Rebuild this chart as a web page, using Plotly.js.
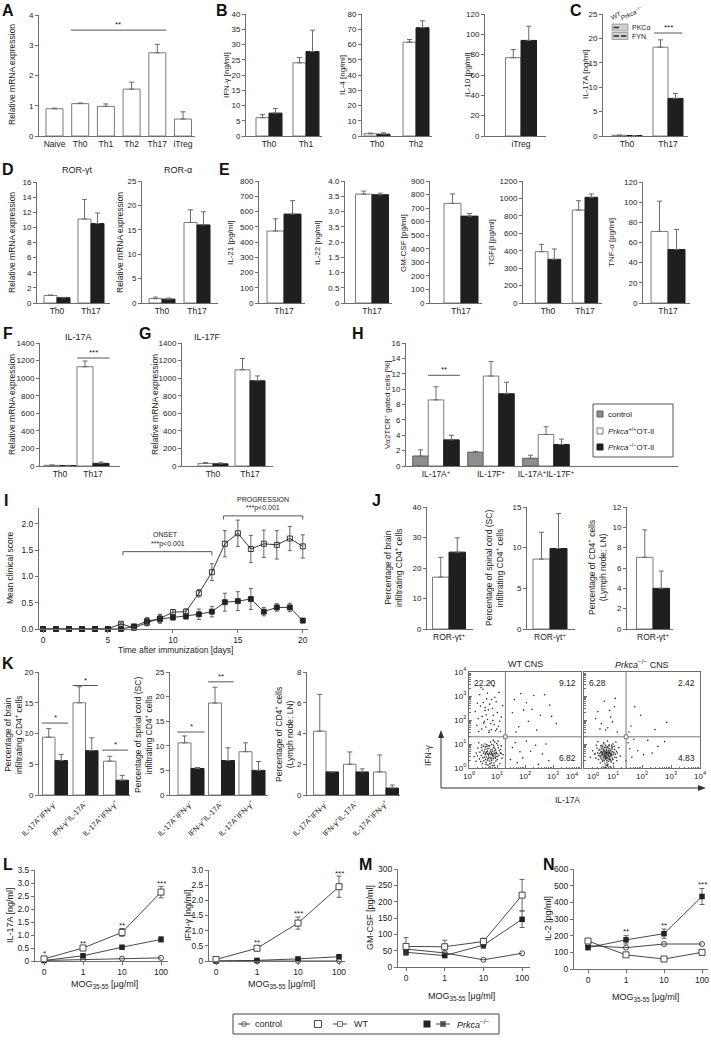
<!DOCTYPE html>
<html><head><meta charset="utf-8">
<script src="https://cdn.plot.ly/plotly-3.0.1.min.js"></script>
<style>body{margin:0;padding:0;background:#fff}#chart{width:711px;height:1046px}</style>
</head><body><div id="chart"></div>
<script>
// ================= DATA =================
// A
const catsA=['Naive','Th0','Th1','Th2','Th17','iTreg'];
const valsA=[0.9,1.07,0.98,1.55,2.75,0.56];
const errA=[0.02,0.02,0.08,0.23,0.28,0.24];
// B
const catsB1=['Th0','Th1']; const wtB1=[6,24]; const wtB1e=[1,1.7]; const koB1=[7.5,27.7]; const koB1e=[1.5,7];
const catsB2=['Th0','Th2']; const wtB2=[1.5,61.5]; const wtB2e=[0.4,1.8]; const koB2=[1.2,71]; const koB2e=[0.9,4.5];
const catsB3=['iTreg']; const wtB3=[77]; const wtB3e=[8]; const koB3=[94]; const koB3e=[14];
// C
const catsC=['Th0','Th17']; const wtC=[0.15,18.2]; const wtCe=[0,1.5]; const koC=[0.1,7.7]; const koCe=[0,1];
// D
const catsD=['Th0','Th17'];
const wtD1=[1.0,11.1]; const wtD1e=[0.05,2.6]; const koD1=[0.7,10.5]; const koD1e=[0.05,1.4];
const wtD2=[0.9,16.5]; const wtD2e=[0.3,2.6]; const koD2=[0.8,16.0]; const koD2e=[0.2,2.7];
// E
const catsE=['Th17'];
const wtE1=[472]; const wtE1e=[80]; const koE1=[583]; const koE1e=[88];
const wtE2=[3.57]; const wtE2e=[0.1]; const koE2=[3.55]; const koE2e=[0.05];
const ticksE2=['0','0.5','1.0','1.5','2.0','3.5','3.0','3.5','4.0'];
const wtE3=[735]; const wtE3e=[70]; const koE3=[641]; const koE3e=[20];
const catsE4=['Th0','Th17'];
const wtE4=[589,1067]; const wtE4e=[84,107]; const koE4=[501,1213]; const koE4e=[119,38];
const ticksE4=['0','200','300','400','600','800','1000','1200'];
const wtE5=[71]; const wtE5e=[30]; const koE5=[53]; const koE5e=[20];
// F, G
const catsF=['Th0','Th17'];
const wtF=[8,1130]; const wtFe=[3,65]; const koF=[5,30]; const koFe=[2,15];
const wtG=[30,1095]; const wtGe=[8,130]; const koG=[25,970]; const koGe=[10,55];
// H
const catsH=['IL-17A<sup>+</sup>','IL-17F<sup>+</sup>','IL-17A<sup>+</sup>IL-17F<sup>+</sup>'];
const ctrlH=[1.3,1.8,1.0]; const ctrlHe=[0.8,0.1,0.4];
const wtH=[8.6,11.7,4.1]; const wtHe=[1.7,1.9,1.0];
const koH=[3.4,9.4,2.8]; const koHe=[0.6,1.5,0.7];
// I
const daysI=[0,1,2,3,4,5,6,7,8,9,10,11,12,13,14,15,16,17,18,19,20];
const wtI=[0,0,0,0,0,0,0.1,0.02,0.12,0.2,0.32,0.33,0.68,1.08,1.62,1.82,1.52,1.62,1.6,1.72,1.57];
const wtIe=[0,0,0,0,0,0,0.02,0.02,0.06,0.08,0.05,0.05,0.07,0.16,0.25,0.25,0.26,0.26,0.27,0.23,0.22];
const koI=[0,0,0,0,0,0,0,0.05,0.15,0.19,0.22,0.24,0.28,0.33,0.51,0.53,0.57,0.33,0.41,0.41,0.16];
const koIe=[0,0,0,0,0,0,0,0.02,0.07,0.08,0.05,0.05,0.1,0.1,0.17,0.18,0.2,0.08,0.07,0.08,0.04];
// J
const catsJ=['ROR-γt<sup>+</sup>'];
const wtJ1=[17]; const wtJ1e=[6.5]; const koJ1=[25.2]; const koJ1e=[4.7];
const wtJ2=[8.6]; const wtJ2e=[3.3]; const koJ2=[9.9]; const koJ2e=[4.3];
const wtJ3=[7.05]; const wtJ3e=[2.7]; const koJ3=[4.0]; const koJ3e=[1.7];
// K
const catsK=['IL-17A<sup>+</sup>IFN-γ<sup>−</sup>','IFN-γ<sup>+</sup>IL-17A<sup>−</sup>','IL-17A<sup>+</sup>IFN-γ<sup>+</sup>'];
const wtK1=[9.4,15.0,5.5]; const wtK1e=[1.4,2.6,0.8]; const koK1=[5.6,7.2,2.4]; const koK1e=[1.0,2.1,0.8];
const wtK2=[10.6,18.7,8.8]; const wtK2e=[1.4,3.2,1.8]; const koK2=[5.4,7.0,5.0]; const koK2e=[0.2,2.6,1.8];
const wtK3=[4.15,2.0,1.5]; const wtK3e=[2.4,0.8,1.1]; const koK3=[1.5,1.5,0.45]; const koK3e=[0,0.2,0.2];
// Flow cytometry (log10 units: [IL-17A, IFN-γ])
const dotsWT=[[0.52,0.61],[0.78,0.44],[0.91,0.72],[0.66,0.33],[0.85,0.58],[1.02,0.49],[0.71,0.81],[0.44,0.52],[0.96,0.29],[0.63,0.67],[0.88,0.95],[1.12,0.63],[0.37,0.38],[0.75,0.17],[0.58,0.88],[1.05,0.84],[0.81,0.31],[0.69,0.55],[0.93,0.46],[0.47,0.74],[1.18,0.41],[0.26,0.62],[0.84,0.69],[0.61,0.24],[0.99,1.02],[0.73,0.62],[0.55,0.45],[0.89,0.21],[1.08,0.72],[0.32,0.83],[0.77,1.08],[0.64,0.97],[0.95,0.58],[0.42,0.27],[0.86,0.39],[1.15,0.92],[0.68,0.12],[0.51,0.91],[0.79,0.75],[1.22,0.55],[0.18,0.47],[0.92,0.82],[0.59,0.36],[0.83,0.52],[0.72,0.43],[1.01,0.35],[0.35,1.05],[0.97,0.65],[0.66,0.71],[0.48,0.18],[0.87,1.15],[1.1,0.18],[0.6,0.58],[0.8,0.63],[0.25,0.28],[0.74,0.93],[1.04,1.12],[0.57,0.78],[0.9,0.1],[0.45,0.96],
[0.7,0.5],[0.82,0.58],[0.62,0.46],[0.9,0.62],[0.76,0.7],[0.67,0.6],[0.86,0.47],[0.95,0.75],[0.58,0.55],[0.79,0.38],[1.0,0.6],[0.54,0.68],[0.73,0.29],[0.88,0.86],[0.65,0.8],[1.07,0.53],[0.49,0.43],[0.83,0.78],[0.71,0.92],[0.94,0.41],[0.61,0.15],[0.39,0.66],[1.13,0.77],[0.8,0.22],[0.57,1.0],[0.92,1.08],[0.68,0.39],[0.3,0.5],[1.03,0.95],[0.76,0.56],[0.85,0.1],[0.53,0.3],[0.97,0.47],[0.64,0.9],[0.89,0.54],[1.16,0.6],[0.44,0.85],[0.74,0.05],[0.81,0.98],[0.6,0.62],
[0.45,1.62],[0.78,1.85],[0.62,2.21],[0.95,1.55],[0.33,2.05],[0.84,2.48],[1.05,1.74],[0.51,2.73],[0.71,1.48],[0.92,2.95],[0.28,1.78],[0.66,3.12],[1.15,2.12],[0.55,1.95],[0.88,3.41],[0.41,2.58],[0.74,2.66],[1.01,2.31],[0.6,1.71],[0.85,1.98],[0.38,3.05],[0.69,2.42],[1.12,1.52],[0.5,3.28],[0.97,2.76],[0.22,2.35],[0.8,1.6],[0.63,2.88],[1.07,3.15],[0.47,2.15],[0.76,3.55],[0.9,1.8],[0.35,1.52],[0.58,2.52],[1.2,2.6],
[0.53,1.88],[0.87,2.2],[0.3,2.7],[0.99,1.62],[0.66,2.02],[0.43,3.35],[0.81,2.85],[1.1,1.95],[0.57,2.4],[0.72,1.55],
[1.62,2.85],[1.95,2.41],[2.31,3.02],[1.78,1.72],[2.55,2.2],[2.12,1.95],[1.55,2.3],[2.88,2.62],[2.42,1.58],[1.85,3.1],[2.05,2.72],[3.12,1.85],[2.7,3.05],[1.68,1.5],[2.25,2.45],[2.95,2.15],
[1.55,0.85],[1.92,0.42],[2.38,0.95],[1.72,0.22],[2.62,0.58],[2.05,1.12],[1.48,0.35],[2.85,0.3],[2.2,0.7],[1.65,1.05],[2.48,0.15],[1.82,0.68],[2.75,1.0]];
const dotsKO=[[0.62,0.58],[0.81,0.66],[0.74,0.42],[0.93,0.71],[0.55,0.49],[0.88,0.35],[0.69,0.79],[1.02,0.55],[0.47,0.63],[0.78,0.51],[0.96,0.88],[0.64,0.27],[0.85,0.62],[1.11,0.44],[0.58,0.92],[0.73,0.69],[0.9,0.48],[0.41,0.41],[0.83,0.83],[1.06,0.76],[0.67,0.55],[0.79,0.31],[0.95,0.61],[0.52,0.74],[0.87,0.97],[0.71,0.6],[1.15,0.62],[0.6,0.38],[0.82,0.45],[0.98,0.4],[0.36,0.57],[0.76,0.86],[0.66,0.7],[0.92,0.53],[1.2,0.85],[0.56,0.21],[0.84,0.74],[0.7,0.47],[1.0,1.0],[0.45,0.83],[0.8,0.57],[0.63,0.64],[0.94,0.25],[1.08,0.58],[0.75,0.95],[0.5,0.35],[0.86,0.52],[0.68,1.05],[0.97,0.78],[0.3,0.72],[0.77,0.4],[1.13,0.3],[0.61,0.82],[0.89,0.65],[0.72,0.18],[1.04,0.9],[0.54,0.6],[0.81,1.12],[0.91,0.36],[0.65,0.5],[0.78,0.73],[1.25,0.5],[0.42,0.95],[0.85,0.28],[0.69,0.63],[0.99,0.68],[0.58,0.45],[0.74,0.55],[0.88,0.8],[1.1,1.08],[0.22,0.45],[0.8,0.12],[0.64,0.88],[0.95,0.95],[0.7,0.3],[0.84,0.58],[0.48,1.1],[1.02,0.2],[0.6,0.7],[0.77,0.65],[0.9,0.05],[0.75,0.02],[0.82,0.08],[0.66,0.04],
[0.72,0.52],[0.8,0.44],[0.86,0.67],[0.63,0.59],[0.77,0.78],[0.92,0.58],[0.68,0.42],[0.84,0.5],[0.75,0.64],[0.59,0.53],[0.96,0.5],[0.7,0.72],[0.88,0.43],[0.81,0.88],[0.65,0.33],[1.03,0.64],[0.55,0.78],[0.79,0.24],[0.9,0.74],[0.73,0.36],[1.06,0.45],[0.62,0.95],[0.83,0.38],[0.97,0.84],[0.5,0.52],[0.87,0.6],[0.71,0.87],[0.78,0.6],[0.93,0.3],[0.66,0.77],[1.12,0.7],[0.58,0.66],[0.82,0.15],[0.74,0.48],[0.95,0.56],[0.69,1.0],[0.86,0.92],[0.38,0.6],[1.0,0.35],[0.76,0.1],
[0.75,1.58],[0.92,2.12],[0.6,1.85],[1.05,2.55],[0.82,1.68],[0.48,2.35],[0.98,1.92],[0.7,2.78],[1.15,1.5],[0.55,1.62],[0.88,2.4],[1.08,2.9],[0.4,2.05],
[1.62,1.75],[1.95,2.2],[2.45,1.6],[1.75,2.55],[2.85,1.9],[1.55,1.5],
[1.52,1.05],[1.85,0.72],[2.2,1.15],[1.65,0.45],[2.55,0.9],[1.45,0.3],[2.05,0.55],[2.78,1.1],[1.72,1.2],[2.35,0.62],[1.58,0.8]];
const gateWT=[1.3,1.3]; const gateKO=[1.45,1.3];
const quadWT=['22.20','9.12','6.82']; const quadKO=['6.28','2.42','4.83'];
// L, M, N
const doses=['0','1','10','100'];
const ctrlL1=[0.02,0.06,0.09,0.12]; const wtL1=[0.08,0.5,1.1,2.65]; const wtL1e=[0.03,0.04,0.15,0.22]; const koL1=[0.02,0.2,0.53,0.83]; const koL1e=[0.01,0.05,0.03,0.1];
const starsL1=['*','**','**','***']; const starsL1y=[0.3,0.68,1.37,3.0];
const ctrlL2=[0,0,0,0]; const wtL2=[0.05,0.42,1.25,2.45]; const wtL2e=[0.02,0.08,0.2,0.35]; const koL2=[0,0.02,0.07,0.14]; const koL2e=[0,0.01,0.03,0.03];
const starsL2=['','**','***','***']; const starsL2y=[0,0.62,1.58,2.9];
const ctrlM=[55,43,22,42]; const wtM=[63,62,78,220]; const wtMe=[27,20,10,48]; const koM=[45,35,67,146]; const koMe=[8,5,10,25];
const ctrlN=[140,128,150,150]; const wtN=[168,85,60,100]; const wtNe=[8,6,5,6]; const koN=[128,175,212,435]; const koNe=[8,25,28,48];
const starsN=['','**','**','***']; const starsNy=[0,225,262,505];

// ================= HELPERS =================
const W=711,H=1046;
const FONT='Liberation Sans, Arial, sans-serif';
const NARROW='Liberation Sans Narrow, Arial Narrow, Liberation Sans, sans-serif';
const AX='#6f6f6f';
const data=[],ann=[],shapes=[];
const layout={width:W,height:H,margin:{l:0,r:0,t:0,b:0,pad:0},showlegend:false,barmode:'overlay',
  paper_bgcolor:'#ffffff',plot_bgcolor:'rgba(0,0,0,0)',font:{family:FONT,size:8,color:'#222'},
  annotations:ann,shapes:shapes};
let nAx=0;
const px=x=>x/W, py=y=>1-y/H;
function axes(x0,x1,yT,yB,xo,yo){
  nAx++; const s=nAx===1?'':String(nAx);
  const base={showline:true,linecolor:AX,linewidth:1,showgrid:false,zeroline:false,tickcolor:AX,ticklen:3,tickwidth:1,
    tickfont:{family:FONT,size:8,color:'#222'},fixedrange:true,automargin:false};
  layout['xaxis'+s]=Object.assign({},base,{domain:[px(x0),px(x1)],anchor:'y'+s},xo||{});
  layout['yaxis'+s]=Object.assign({},base,{domain:[py(yB),py(yT)],anchor:'x'+s,ticks:'outside'},yo||{});
  return {x:'x'+s,y:'y'+s};
}
function txt(t,x,y,o){ann.push(Object.assign({xref:'paper',yref:'paper',x:px(x),y:py(y),text:t,showarrow:false,
  font:{family:FONT,size:8.5,color:'#222'},xanchor:'center',yanchor:'middle'},o||{}));}
function letter(t,x,y){txt(t,x,y,{font:{family:FONT,size:16,color:'#111',weight:'bold'}});}
function ytitle(t,x,y,o){txt(t,x,y,Object.assign({textangle:-90},o||{}));}
const WHITE={fill:'#ffffff',line:'#7a7a7a'}, BLACK={fill:'#1f1f1f',line:'#1f1f1f'}, GRAY={fill:'#8e8e8e',line:'#5a5a5a'};
function barPanel(o){
  const r=[(o.x0-o.c0)/o.step,(o.x1-o.c0)/o.step], w=o.bw/o.step;
  const yo={range:[0,o.ymax],dtick:o.dtick,tickfont:{family:FONT,size:o.tfs||8,color:'#222'}};
  if(o.tickvals){yo.tickmode='array';yo.tickvals=o.tickvals;yo.ticktext=o.ticktext;}
  const a=axes(o.x0,o.x1,o.yT,o.yB,Object.assign({type:'category',range:r,ticks:'',tickfont:{family:FONT,size:8.5,color:'#222'}},o.xo||{}),yo);
  const n=o.series.length;
  o.series.forEach((s,i)=>{
    data.push({type:'bar',x:o.cats,y:s.v,xaxis:a.x,yaxis:a.y,width:w,offset:(i-n/2)*w,
      marker:{color:s.st.fill,line:{color:s.st.line,width:1}},
      error_y:{type:'data',symmetric:false,array:s.e,arrayminus:s.e.map(()=>0),color:'#6a6a6a',thickness:1,width:2.5}});
  });
  return a;
}
function sig(a,x0,x1,y,t,dy){
  shapes.push({type:'line',xref:a.x,yref:a.y,x0:x0,x1:x1,y0:y,y1:y,line:{color:'#555',width:1}});
  ann.push({xref:a.x,yref:a.y,x:(x0+x1)/2,y:y,text:t,showarrow:false,yanchor:'bottom',yshift:dy||0,font:{family:FONT,size:8,color:'#222'}});
}

// ================= ROW 1 =================
letter('A',8,10); letter('B',222,10); letter('C',576,10);
let a=barPanel({x0:39,x1:195,yT:15,yB:136,ymax:4,dtick:1,cats:catsA,c0:54.5,step:25.7,bw:17,series:[{v:valsA,e:errA,st:WHITE}]});
sig(a,0.64,4.34,3.5,'**',-1);
ytitle('Relative mRNA expression',12,75);
barPanel({x0:246,x1:322,yT:14,yB:136,ymax:40,dtick:5,cats:catsB1,c0:269,step:37,bw:13,series:[{v:wtB1,e:wtB1e,st:WHITE},{v:koB1,e:koB1e,st:BLACK}]});
ytitle('IFN-γ [ng/ml]',226,75,{font:{family:FONT,size:8,color:'#222'}});
barPanel({x0:362,x1:432,yT:14,yB:136,ymax:80,dtick:10,cats:catsB2,c0:377,step:39,bw:13,series:[{v:wtB2,e:wtB2e,st:WHITE},{v:koB2,e:koB2e,st:BLACK}]});
ytitle('IL-4 [ng/ml]',342,75,{font:{family:FONT,size:8,color:'#222'}});
barPanel({x0:485,x1:546,yT:14,yB:136,ymax:120,dtick:20,cats:catsB3,c0:521,step:40,bw:15.5,series:[{v:wtB3,e:wtB3e,st:WHITE},{v:koB3,e:koB3e,st:BLACK}]});
ytitle('IL-10 [pg/ml]',467,75,{font:{family:FONT,size:8,color:'#222'}});
a=barPanel({x0:603,x1:688,yT:14,yB:136,ymax:25,dtick:5,cats:catsC,c0:627,step:41,bw:15,series:[{v:wtC,e:wtCe,st:WHITE},{v:koC,e:koCe,st:BLACK}]});
sig(a,0.66,1.35,21.1,'***',-1);
ytitle('IL-17A [ng/ml]',585,75,{font:{family:FONT,size:8,color:'#222'}});
// western blot inset
shapes.push({type:'rect',xref:'paper',yref:'paper',x0:px(612),x1:px(628),y0:py(31),y1:py(24),fillcolor:'#cfcfcf',line:{color:'#777',width:0.6}});
shapes.push({type:'rect',xref:'paper',yref:'paper',x0:px(612),x1:px(628),y0:py(39.5),y1:py(32.5),fillcolor:'#cfcfcf',line:{color:'#777',width:0.6}});
shapes.push({type:'rect',xref:'paper',yref:'paper',x0:px(613.5),x1:px(619),y0:py(28.3),y1:py(26.7),fillcolor:'#333',line:{width:0}});
shapes.push({type:'rect',xref:'paper',yref:'paper',x0:px(613.5),x1:px(619),y0:py(36.8),y1:py(35.2),fillcolor:'#333',line:{width:0}});
shapes.push({type:'rect',xref:'paper',yref:'paper',x0:px(621),x1:px(626.5),y0:py(36.8),y1:py(35.2),fillcolor:'#333',line:{width:0}});
txt('PKCα',630,27.5,{xanchor:'left',font:{family:FONT,size:7,color:'#222'}});
txt('FYN',630,36,{xanchor:'left',font:{family:FONT,size:7,color:'#222'}});
txt('WT',616,16,{textangle:-25,font:{family:FONT,size:6.5,color:'#222'}});
txt('<i>Prkca</i><sup>−/−</sup>',632,13.5,{textangle:-25,font:{family:FONT,size:6.5,color:'#222'}});

// ================= ROW 2 =================
letter('D',8,169); letter('E',224,169);
txt('ROR-γt',77,170,{font:{family:FONT,size:9,color:'#222'}});
txt('ROR-α',178,170,{font:{family:FONT,size:9,color:'#222'}});
barPanel({x0:37,x1:110,yT:182,yB:303,ymax:16,dtick:2,cats:catsD,c0:57,step:34,bw:13,series:[{v:wtD1,e:wtD1e,st:WHITE},{v:koD1,e:koD1e,st:BLACK}]});
ytitle('Relative mRNA expression',12,243);
barPanel({x0:142,x1:218,yT:181,yB:303,ymax:25,dtick:5,cats:catsD,c0:162,step:35,bw:13,series:[{v:wtD2,e:wtD2e,st:WHITE},{v:koD2,e:koD2e,st:BLACK}]});
ytitle('Relative mRNA expression',120,243);
barPanel({x0:259,x1:305,yT:181,yB:303,ymax:800,dtick:100,cats:catsE,c0:284,step:40,bw:17,series:[{v:wtE1,e:wtE1e,st:WHITE},{v:koE1,e:koE1e,st:BLACK}]});
ytitle('IL-21 [pg/ml]',231,243,{font:{family:FONT,size:8,color:'#222'}});
barPanel({x0:345,x1:392,yT:181,yB:303,ymax:4,cats:catsE,c0:372,step:40,bw:16.5,tickvals:[0,0.5,1,1.5,2,2.5,3,3.5,4],ticktext:ticksE2,series:[{v:wtE2,e:wtE2e,st:WHITE},{v:koE2,e:koE2e,st:BLACK}]});
ytitle('IL-22 [ng/ml]',318,243,{font:{family:FONT,size:8,color:'#222'}});
barPanel({x0:430,x1:482,yT:181,yB:303,ymax:900,dtick:100,cats:catsE,c0:461,step:40,bw:17,series:[{v:wtE3,e:wtE3e,st:WHITE},{v:koE3,e:koE3e,st:BLACK}]});
ytitle('GM-CSF [pg/ml]',404,243,{font:{family:FONT,size:8,color:'#222'}});
barPanel({x0:523,x1:602,yT:181,yB:303,ymax:1400,cats:catsE4,c0:548,step:37,bw:12.7,tickvals:[0,200,400,600,800,1000,1200,1400],ticktext:ticksE4,series:[{v:wtE4,e:wtE4e,st:WHITE},{v:koE4,e:koE4e,st:BLACK}]});
ytitle('TGFβ [pg/ml]',492,243,{font:{family:FONT,size:8,color:'#222'}});
barPanel({x0:643,x1:690,yT:182,yB:303,ymax:120,dtick:20,cats:catsE,c0:668,step:40,bw:17,series:[{v:wtE5,e:wtE5e,st:WHITE},{v:koE5,e:koE5e,st:BLACK}]});
ytitle('TNF-α [pg/ml]',612,243,{font:{family:FONT,size:8,color:'#222'}});

// ================= ROW 3 =================
letter('F',8,333); letter('G',145,333); letter('H',358,333);
txt('IL-17A',78,337,{font:{family:FONT,size:9,color:'#222'}});
txt('IL-17F',207,337,{font:{family:FONT,size:9,color:'#222'}});
a=barPanel({x0:40,x1:120,yT:343,yB:466,ymax:1400,dtick:200,cats:catsF,c0:60,step:33,bw:16,series:[{v:wtF,e:wtFe,st:WHITE},{v:koF,e:koFe,st:BLACK}]});
sig(a,0.52,1.5,1229,'***',-1);
ytitle('Relative mRNA expression',12,405);
barPanel({x0:182,x1:273,yT:343,yB:466,ymax:1400,dtick:200,cats:catsF,c0:213,step:37,bw:15,series:[{v:wtG,e:wtGe,st:WHITE},{v:koG,e:koGe,st:BLACK}]});
ytitle('Relative mRNA expression',155,405);
a=barPanel({x0:406,x1:678,yT:343,yB:466,ymax:16,dtick:2,cats:catsH,c0:436,step:55,bw:15.5,series:[{v:ctrlH,e:ctrlHe,st:GRAY},{v:wtH,e:wtHe,st:WHITE},{v:koH,e:koHe,st:BLACK}]});
sig(a,-0.145,0.436,11.8,'**',-1);
ytitle('Vα2TCR<sup>+</sup> gated cells [%]',387,405,{font:{family:FONT,size:8,color:'#222'}});
// H legend
shapes.push({type:'rect',layer:'below',xref:'paper',yref:'paper',x0:px(593),x1:px(673),y0:py(457),y1:py(404),line:{color:'#555',width:1},fillcolor:'rgba(0,0,0,0)'});
[[414,GRAY,'control'],[431,WHITE,'<i>Prkca</i><sup>+/+</sup>OT-II'],[447,BLACK,'<i>Prkca</i><sup>−/−</sup>OT-II']].forEach(r=>{
  shapes.push({type:'rect',xref:'paper',yref:'paper',x0:px(597),x1:px(603),y0:py(r[0]+3),y1:py(r[0]-3),fillcolor:r[1].fill,line:{color:r[1].line,width:1}});
  txt(r[2],606,r[0],{xanchor:'left',font:{family:FONT,size:8,color:'#222'}});
});

// ================= ROW 4 =================
letter('I',6,501); letter('J',376,501);
a=axes(39,308,508,629,{range:[-0.31,20.4],dtick:5,ticks:'outside',tickfont:{family:FONT,size:8.5,color:'#222'}},{range:[0,2.3],dtick:0.5,tick0:0,tickformat:'.1f',tickfont:{family:FONT,size:8.5,color:'#222'}});
data.push({type:'scatter',mode:'lines+markers',x:daysI,y:koI,xaxis:a.x,yaxis:a.y,cliponaxis:false,
  line:{color:'#222',width:0.9},marker:{symbol:'square',size:5,color:'#222',line:{color:'#222',width:0.8}},
  error_y:{type:'data',array:koIe,color:'#555',thickness:0.9,width:2}});
data.push({type:'scatter',mode:'lines+markers',x:daysI,y:wtI,xaxis:a.x,yaxis:a.y,cliponaxis:false,
  line:{color:'#222',width:0.9},marker:{symbol:'square-open',size:5,color:'#222',line:{color:'#222',width:0.9}},
  error_y:{type:'data',array:wtIe,color:'#555',thickness:0.9,width:2}});
// ONSET / PROGRESSION brackets
[[6.15,13,1.47],[13.9,20,2.15]].forEach(b=>{
  shapes.push({type:'path',xref:a.x,yref:a.y,path:`M ${b[0]},${b[2]-0.07} L ${b[0]},${b[2]} L ${b[1]},${b[2]} L ${b[1]},${b[2]-0.07}`,line:{color:'#555',width:1}});
});
txt('ONSET',165,534,{font:{family:FONT,size:7,color:'#222'}});
txt('***p<0.001',168,544,{font:{family:FONT,size:7,color:'#222'}});
txt('PROGRESSION',263,499,{font:{family:FONT,size:7,color:'#222'}});
txt('***p<0.001',263,508,{font:{family:FONT,size:7,color:'#222'}});
ytitle('Mean clinical score',10,568);
txt('Time after immunization [days]',175,650);
barPanel({x0:427,x1:473,yT:507,yB:629,ymax:40,dtick:10,cats:catsJ,c0:449,step:40,bw:16.5,series:[{v:wtJ1,e:wtJ1e,st:WHITE},{v:koJ1,e:koJ1e,st:BLACK}]});
ytitle('Percentage of brain<br>infiltrating CD4<sup>+</sup> cells',393,568);
barPanel({x0:527,x1:575,yT:507,yB:629,ymax:15,dtick:5,cats:catsJ,c0:550,step:40,bw:17,series:[{v:wtJ2,e:wtJ2e,st:WHITE},{v:koJ2,e:koJ2e,st:BLACK}]});
ytitle('Percentage of spinal cord (SC)<br>infiltrating CD4<sup>+</sup> cells',494,568);
barPanel({x0:627,x1:673,yT:507,yB:629,ymax:12,dtick:2,cats:catsJ,c0:653,step:40,bw:16.5,series:[{v:wtJ3,e:wtJ3e,st:WHITE},{v:koJ3,e:koJ3e,st:BLACK}]});
ytitle('Percentage of CD4<sup>+</sup> cells<br>(Lymph node; LN)',597,568);

// ================= ROW 5 =================
letter('K',8,663);
const kx={tickangle:-45,tickfont:{family:FONT,size:7.5,color:'#222'}};
a=barPanel({x0:39,x1:130,yT:672,yB:795,ymax:20,dtick:5,cats:catsK,c0:55,step:30.5,bw:12.5,xo:kx,series:[{v:wtK1,e:wtK1e,st:WHITE},{v:koK1,e:koK1e,st:BLACK}]});
sig(a,-0.43,0.43,11.7,'*',-1); sig(a,0.58,1.4,17.8,'*',-1); sig(a,1.55,2.4,7.3,'*',-1);
ytitle('Percentage of brain<br>infiltrating CD4<sup>+</sup> cells',13,735);
a=barPanel({x0:170,x1:268,yT:672,yB:795,ymax:25,dtick:5,cats:catsK,c0:191,step:30.5,bw:13,xo:kx,series:[{v:wtK2,e:wtK2e,st:WHITE},{v:koK2,e:koK2e,st:BLACK}]});
sig(a,-0.45,0.45,12.8,'*',-1); sig(a,0.56,1.4,23,'**',-1);
ytitle('Percentage of spinal cord (SC)<br>infiltrating CD4<sup>+</sup> cells',143,735);
barPanel({x0:307,x1:400,yT:672,yB:795,ymax:8,dtick:2,cats:catsK,c0:326,step:30,bw:12.5,xo:kx,series:[{v:wtK3,e:wtK3e,st:WHITE},{v:koK3,e:koK3e,st:BLACK}]});
ytitle('Percentage of CD4<sup>+</sup> cells<br>(Lymph node; LN)',284,735);

// flow cytometry
const logT=['10<sup>0</sup>','10<sup>1</sup>','10<sup>2</sup>','10<sup>3</sup>','10<sup>4</sup>'];
const minorV=[]; for(let d=0;d<4;d++){for(let k=2;k<10;k++)minorV.push(d+Math.log10(k));}
function flow(x0,x1,dots,gate,quad,title,showY,xv,xt){
  const fa=axes(x0,x1,672,768,
    {range:[0,4],tickmode:'array',tickvals:xv,ticktext:xt,ticks:'inside',ticklen:3,mirror:true,
     minor:{tickmode:'array',tickvals:minorV,ticks:'inside',ticklen:1.5,tickcolor:AX},tickfont:{family:FONT,size:8,color:'#222'}},
    {range:[0,4],tickmode:'array',tickvals:[0,1,2,3,4],ticktext:logT,showticklabels:showY,ticks:'inside',ticklen:3,mirror:true,
     minor:{tickmode:'array',tickvals:minorV,ticks:'inside',ticklen:1.5,tickcolor:AX},tickfont:{family:FONT,size:8,color:'#222'}});
  data.push({type:'scatter',mode:'markers',x:dots.map(d=>d[0]),y:dots.map(d=>d[1]),xaxis:fa.x,yaxis:fa.y,
    marker:{size:1.6,color:'#2a2a2a'},cliponaxis:true});
  shapes.push({type:'line',xref:fa.x,yref:fa.y,x0:gate[0],x1:gate[0],y0:0,y1:4,line:{color:'#777',width:1}});
  shapes.push({type:'line',xref:fa.x,yref:fa.y,x0:0,x1:4,y0:gate[1],y1:gate[1],line:{color:'#777',width:1}});
  shapes.push({type:'rect',xref:fa.x,yref:fa.y,x0:gate[0]-0.06,x1:gate[0]+0.06,y0:gate[1]-0.08,y1:gate[1]+0.08,line:{color:'#555',width:0.8},fillcolor:'#fff'});
  ann.push({xref:fa.x,yref:fa.y,x:0.12,y:3.82,text:quad[0],showarrow:false,xanchor:'left',yanchor:'top',font:{family:FONT,size:8.5,color:'#222'}});
  ann.push({xref:fa.x,yref:fa.y,x:3.9,y:3.82,text:quad[1],showarrow:false,xanchor:'right',yanchor:'top',font:{family:FONT,size:8.5,color:'#222'}});
  ann.push({xref:fa.x,yref:fa.y,x:3.9,y:0.12,text:quad[2],showarrow:false,xanchor:'right',yanchor:'bottom',font:{family:FONT,size:8.5,color:'#222'}});
  txt(title,(x0+x1)/2,664,{font:{family:FONT,size:9,color:'#222'}});
}
flow(469,581,dotsWT,gateWT,quadWT,'WT CNS',true,[0,1,2,3],logT.slice(0,4));
flow(584,700,dotsKO,gateKO,quadKO,'<i>Prkca</i><sup>−/−</sup> CNS',false,[1,2,3,4],logT.slice(1));
txt(logT[4],580,776,{xanchor:'right',font:{family:FONT,size:8,color:'#222'}});
txt(logT[0],585,776,{xanchor:'left',font:{family:FONT,size:8,color:'#222'}});
// axis arrows
shapes.push({type:'line',xref:'paper',yref:'paper',x0:px(441),x1:px(441),y0:py(788),y1:py(736),line:{color:'#333',width:1}});
shapes.push({type:'line',xref:'paper',yref:'paper',x0:px(441),x1:px(700),y0:py(788),y1:py(788),line:{color:'#333',width:1}});
shapes.push({type:'path',xref:'paper',yref:'paper',path:`M ${px(441)},${py(730)} L ${px(438)},${py(738)} L ${px(444)},${py(738)} Z`,fillcolor:'#333',line:{width:0}});
shapes.push({type:'path',xref:'paper',yref:'paper',path:`M ${px(706)},${py(788)} L ${px(698)},${py(785)} L ${px(698)},${py(791)} Z`,fillcolor:'#333',line:{width:0}});
ytitle('IFN-γ',428,755);
txt('IL-17A',567,800);

// ================= ROW 6 =================
letter('L',8,864); letter('M',365,864); letter('N',549,864);
function linePanel(o){
  const r=[(o.x0-o.c0)/o.step,(o.x1-o.c0)/o.step];
  const yo={range:[0,o.ymax],tickmode:'array',tickvals:o.tv,ticktext:o.tt,tickfont:{family:NARROW,size:8.5,color:'#222'}};
  const a=axes(o.x0,o.x1,o.yT,o.yB,{type:'category',range:r,ticks:'outside',ticklen:3,tickfont:{family:NARROW,size:8.5,color:'#222'}},yo);
  data.push({type:'scatter',mode:'lines+markers',x:doses,y:o.ctrl,xaxis:a.x,yaxis:a.y,cliponaxis:false,
    line:{color:'#333',width:0.9},marker:{symbol:'circle-open',size:5,color:'#333',line:{width:0.9}}});
  data.push({type:'scatter',mode:'lines+markers',x:doses,y:o.ko,xaxis:a.x,yaxis:a.y,cliponaxis:false,
    line:{color:'#333',width:0.9},marker:{symbol:'square',size:5.5,color:'#222'},
    error_y:{type:'data',array:o.koe,color:'#555',thickness:0.9,width:2.5}});
  data.push({type:'scatter',mode:'lines+markers',x:doses,y:o.wt,xaxis:a.x,yaxis:a.y,cliponaxis:false,
    line:{color:'#333',width:0.9},marker:{symbol:'square',size:6,color:'#fff',line:{color:'#333',width:0.9}},
    error_y:{type:'data',array:o.wte,color:'#555',thickness:0.9,width:2.5}});
  if(o.stars){o.stars.forEach((s,i)=>{if(s)ann.push({xref:a.x,yref:a.y,x:i,y:o.starsY[i],text:s,showarrow:false,font:{family:FONT,size:8,color:'#222'}});});}
  return a;
}
linePanel({x0:35,x1:168,yT:870,yB:961,ymax:3.5,c0:44,step:39,tv:[0,0.5,1,1.5,2,2.5,3,3.5],tt:['0','0.5','1.0','1.5','2.0','2.5','3.0','3.5'],
  ctrl:ctrlL1,wt:wtL1,wte:wtL1e,ko:koL1,koe:koL1e,stars:starsL1,starsY:starsL1y});
ytitle('IL-17A [ng/ml]',10,915,{font:{family:NARROW,size:9,color:'#222'}});
txt('MOG<sub>35-55</sub> [μg/ml]',104,984,{font:{family:NARROW,size:9,color:'#222'}});
linePanel({x0:209,x1:345,yT:870,yB:961,ymax:3.0,c0:216,step:41,tv:[0,0.5,1,1.5,2,2.5,3],tt:['0','0.5','1.0','1.5','2.0','2.5','3.0'],
  ctrl:ctrlL2,wt:wtL2,wte:wtL2e,ko:koL2,koe:koL2e,stars:starsL2,starsY:starsL2y});
ytitle('IFN-γ [ng/ml]',188,915,{font:{family:NARROW,size:9,color:'#222'}});
txt('MOG<sub>35-55</sub> [μg/ml]',281,984,{font:{family:NARROW,size:9,color:'#222'}});
linePanel({x0:398,x1:530,yT:869,yB:967,ymax:300,c0:406,step:38.7,tv:[0,50,100,150,200,250,300],tt:['0','50','100','150','200','250','300'],
  ctrl:ctrlM,wt:wtM,wte:wtMe,ko:koM,koe:koMe});
ytitle('GM-CSF [pg/ml]',370,918,{font:{family:NARROW,size:9,color:'#222'}});
txt('MOG<sub>35-55</sub> [μg/ml]',461,996,{font:{family:NARROW,size:9,color:'#222'}});
linePanel({x0:574,x1:708,yT:869,yB:969,ymax:600,c0:588,step:38,tv:[0,100,200,300,400,500,600],tt:['0','100','200','300','400','500','600'],
  ctrl:ctrlN,wt:wtN,wte:wtNe,ko:koN,koe:koNe,stars:starsN,starsY:starsNy});
ytitle('IL-2 [pg/ml]',548,919,{font:{family:NARROW,size:9,color:'#222'}});
txt('MOG<sub>35-55</sub> [μg/ml]',645,997,{font:{family:NARROW,size:9,color:'#222'}});

// bottom legend
const LY=1024;
shapes.push({type:'rect',layer:'below',xref:'paper',yref:'paper',x0:px(233),x1:px(499),y0:py(LY+10),y1:py(LY-10),line:{color:'#444',width:1},fillcolor:'rgba(0,0,0,0)'});
const la=axes(233,499,LY-10,LY+10,{range:[233,499],visible:false},{range:[-1,1],visible:false});
data.push({type:'scatter',mode:'lines+markers',x:[238,244,250],y:[0,0,0],xaxis:la.x,yaxis:la.y,line:{color:'#333',width:0.9},marker:{symbol:'circle-open',size:[0,5,0],color:'#333'}});
data.push({type:'scatter',mode:'markers',x:[318],y:[0],xaxis:la.x,yaxis:la.y,marker:{symbol:'square',size:7,color:'#fff',line:{color:'#333',width:0.9}}});
data.push({type:'scatter',mode:'lines+markers',x:[333,340,347],y:[0,0,0],xaxis:la.x,yaxis:la.y,line:{color:'#333',width:0.9},marker:{symbol:'square',size:[0,5,0],color:'#fff',line:{color:'#333',width:0.9}}});
data.push({type:'scatter',mode:'markers',x:[427],y:[0],xaxis:la.x,yaxis:la.y,marker:{symbol:'square',size:7,color:'#222'}});
data.push({type:'scatter',mode:'lines+markers',x:[436,443,450],y:[0,0,0],xaxis:la.x,yaxis:la.y,line:{color:'#333',width:0.9},marker:{symbol:'square',size:[0,5,0],color:'#222'}});
txt('control',253,LY,{xanchor:'left',font:{family:NARROW,size:9,color:'#222'}});
txt('WT',352,LY,{xanchor:'left',font:{family:NARROW,size:9,color:'#222'}});
txt('<i>Prkca</i><sup>−/−</sup>',455,LY,{xanchor:'left',font:{family:NARROW,size:9,color:'#222'}});

Plotly.newPlot('chart',data,layout,{staticPlot:true,displayModeBar:false});
</script></body></html>
